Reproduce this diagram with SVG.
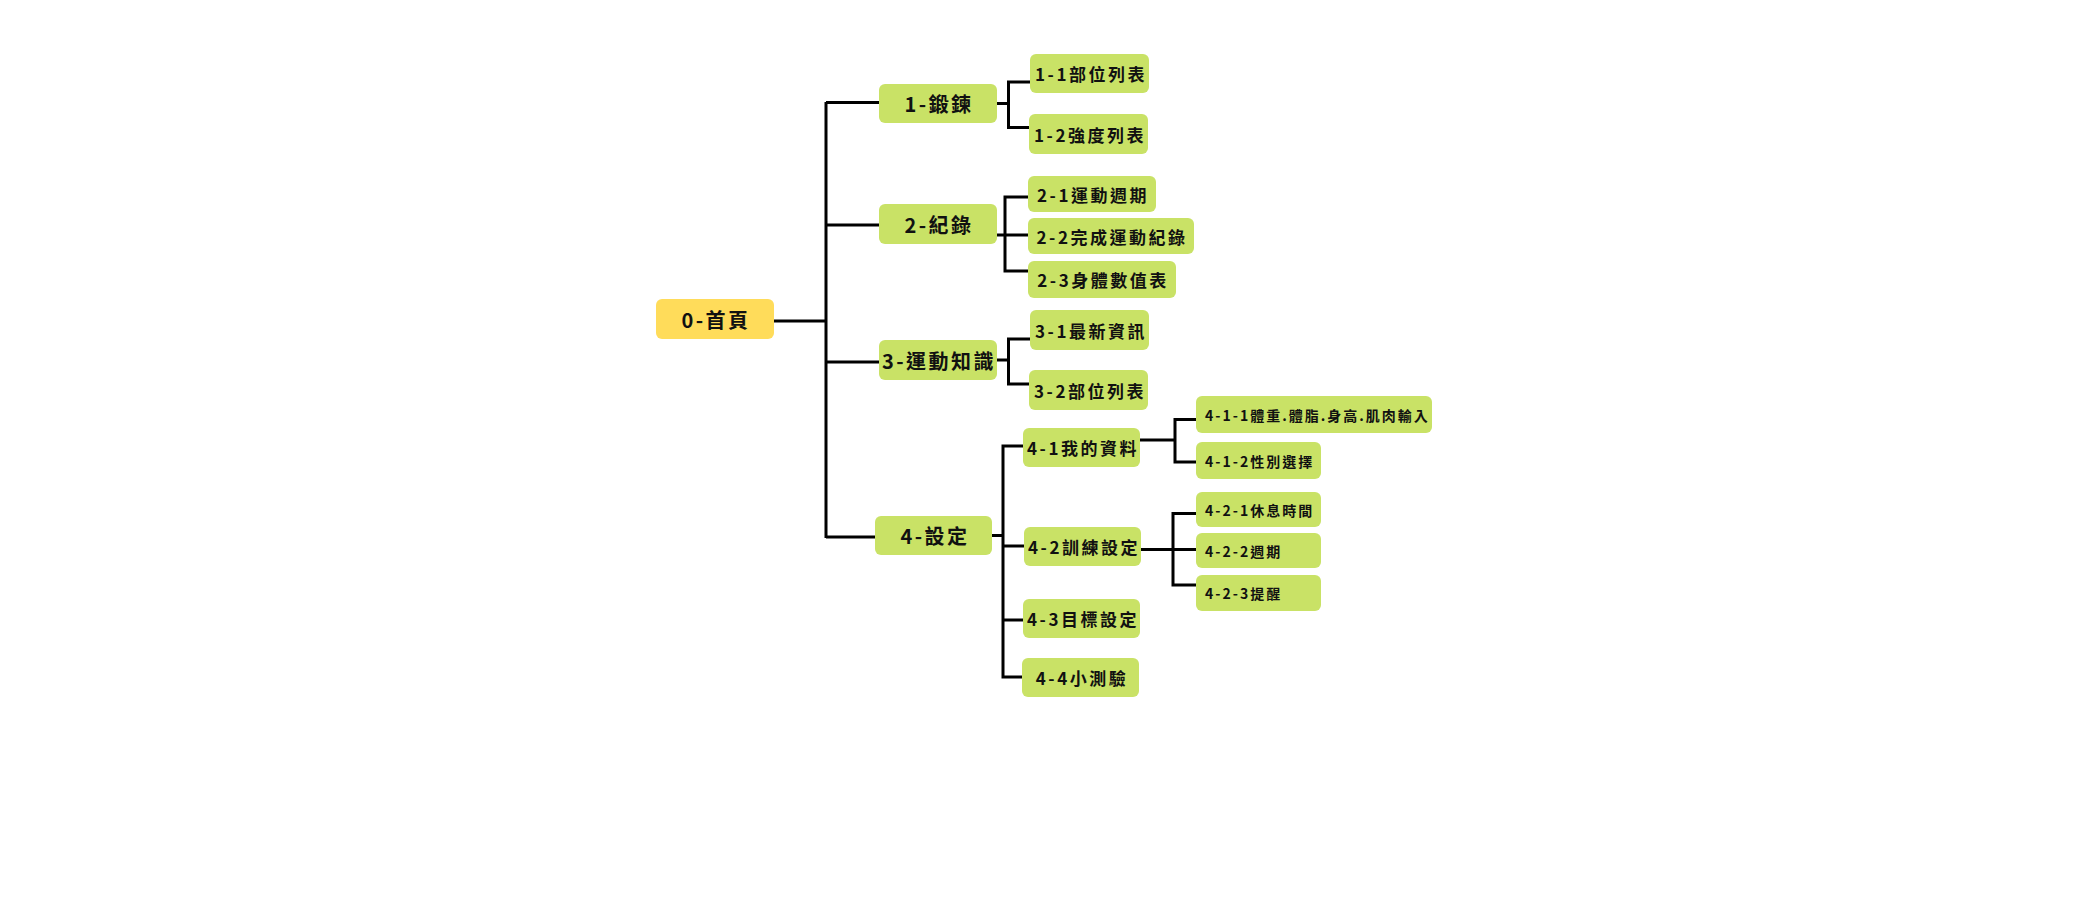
<svg xmlns="http://www.w3.org/2000/svg" width="2100" height="900" viewBox="0 0 2100 900">
  <style>
    .box { fill: #C9E266; }
    .root { fill: #FFDC5A; }
    .t { font-family: "Noto Sans CJK TC", "Noto Sans CJK SC", sans-serif; font-weight: 700; fill: #111; dominant-baseline: central; }
    .l1 { font-size: 20px; letter-spacing: 2.5px; text-anchor: middle; }
    .l2 { font-size: 17px; letter-spacing: 2.5px; text-anchor: middle; }
    .l3 { font-size: 14px; letter-spacing: 2px; text-anchor: start; }
    .wire { fill: none; stroke: #000; stroke-width: 3; stroke-linejoin: miter; }
  </style>
  <rect width="2100" height="900" fill="#FFFFFF"/>

  <!-- tree connectors -->
  <g id="connectors" class="wire">
    <path d="M774,321 H826"/>
    <path d="M826,102 V538"/>
    <path d="M826,102.5 H879"/>
    <path d="M826,225 H879"/>
    <path d="M826,362 H879"/>
    <path d="M826,537 H875"/>

    <path d="M997,103.5 H1008.5"/>
    <path d="M1030,82 H1008.5 V127.5 H1029"/>

    <path d="M997,235 H1005"/>
    <path d="M1028,197 H1005 V271 H1028"/>
    <path d="M1005,235 H1028"/>

    <path d="M997,360 H1008.5"/>
    <path d="M1030,339 H1008.5 V384 H1029"/>

    <path d="M992,535.5 H1003"/>
    <path d="M1023,446 H1003 V677 H1022"/>
    <path d="M1003,546 H1024"/>
    <path d="M1003,620 H1023"/>

    <path d="M1140,440 H1175"/>
    <path d="M1196,419.5 H1175 V462 H1196"/>

    <path d="M1141,549.5 H1173"/>
    <path d="M1196,513.5 H1173 V585 H1196"/>
    <path d="M1173,549.5 H1196"/>
  </g>

  <g id="n0">
    <rect class="root" x="656" y="299" width="118" height="40" rx="6"/>
    <text class="t l1" x="716" y="319">0-首頁</text>
  </g>

  <g id="n1">
    <rect class="box" x="879" y="84" width="118" height="39" rx="6"/>
    <text class="t l1" x="939" y="103.5">1-鍛鍊</text>
  </g>
  <g id="n1-1">
    <rect class="box" x="1030" y="54" width="119" height="39" rx="6"/>
    <text class="t l2" x="1091" y="73.5">1-1部位列表</text>
  </g>
  <g id="n1-2">
    <rect class="box" x="1029" y="114" width="119" height="40" rx="6"/>
    <text class="t l2" x="1090" y="134">1-2強度列表</text>
  </g>

  <g id="n2">
    <rect class="box" x="879" y="204" width="118" height="40" rx="6"/>
    <text class="t l1" x="939" y="224">2-紀錄</text>
  </g>
  <g id="n2-1">
    <rect class="box" x="1028" y="176" width="128" height="36" rx="6"/>
    <text class="t l2" x="1093" y="194">2-1運動週期</text>
  </g>
  <g id="n2-2">
    <rect class="box" x="1028" y="218" width="166" height="36" rx="6"/>
    <text class="t l2" x="1112" y="236">2-2完成運動紀錄</text>
  </g>
  <g id="n2-3">
    <rect class="box" x="1028" y="261" width="148" height="37" rx="6"/>
    <text class="t l2" x="1103" y="279.5">2-3身體數值表</text>
  </g>

  <g id="n3">
    <rect class="box" x="879" y="340" width="118" height="40" rx="6"/>
    <text class="t l1" x="939" y="360">3-運動知識</text>
  </g>
  <g id="n3-1">
    <rect class="box" x="1030" y="310" width="119" height="40" rx="6"/>
    <text class="t l2" x="1091" y="330">3-1最新資訊</text>
  </g>
  <g id="n3-2">
    <rect class="box" x="1029" y="370" width="119" height="40" rx="6"/>
    <text class="t l2" x="1090" y="390">3-2部位列表</text>
  </g>

  <g id="n4">
    <rect class="box" x="875" y="516" width="117" height="39" rx="6"/>
    <text class="t l1" x="935" y="535.5">4-設定</text>
  </g>
  <g id="n4-1">
    <rect class="box" x="1023" y="428" width="117" height="39" rx="6"/>
    <text class="t l2" x="1083" y="447.5">4-1我的資料</text>
  </g>
  <g id="n4-2">
    <rect class="box" x="1024" y="527" width="117" height="39" rx="6"/>
    <text class="t l2" x="1084" y="546.5">4-2訓練設定</text>
  </g>
  <g id="n4-3">
    <rect class="box" x="1023" y="599" width="117" height="39" rx="6"/>
    <text class="t l2" x="1083" y="618.5">4-3目標設定</text>
  </g>
  <g id="n4-4">
    <rect class="box" x="1022" y="658" width="117" height="39" rx="6"/>
    <text class="t l2" x="1082" y="677.5">4-4小測驗</text>
  </g>

  <g id="n4-1-1">
    <rect class="box" x="1196" y="396" width="236" height="37" rx="6"/>
    <text class="t l3" x="1205" y="414.5">4-1-1體重.體脂.身高.肌肉輸入</text>
  </g>
  <g id="n4-1-2">
    <rect class="box" x="1196" y="442" width="125" height="37" rx="6"/>
    <text class="t l3" x="1205" y="460.5">4-1-2性別選擇</text>
  </g>
  <g id="n4-2-1">
    <rect class="box" x="1196" y="492" width="125" height="35" rx="6"/>
    <text class="t l3" x="1205" y="509.5">4-2-1休息時間</text>
  </g>
  <g id="n4-2-2">
    <rect class="box" x="1196" y="533" width="125" height="35" rx="6"/>
    <text class="t l3" x="1205" y="550.5">4-2-2週期</text>
  </g>
  <g id="n4-2-3">
    <rect class="box" x="1196" y="575" width="125" height="36" rx="6"/>
    <text class="t l3" x="1205" y="593">4-2-3提醒</text>
  </g>
</svg>
